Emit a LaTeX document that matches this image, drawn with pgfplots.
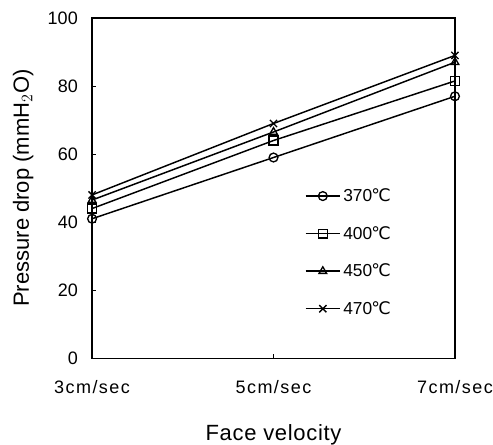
\documentclass[border=0pt]{standalone}
\usepackage{pgfplots}
\pgfplotsset{compat=1.18}
\usepackage{fontspec}
\setmainfont{Liberation Sans}
\newfontfamily\dejavu{DejaVu Sans}
\newfontfamily\widefont[LetterSpace=8]{Liberation Sans}
\newcommand{\degC}{{\dejavu\kern-0.05em ℃}}

\begin{document}
\begin{tikzpicture}
\begin{axis}[
  scale only axis,
  width=272pt,
  height=255pt,
  xmin=0, xmax=2,
  ymin=0, ymax=100,
  xtick={0,1,2},
  xticklabels={3cm/sec,5cm/sec,7cm/sec},
  ytick={0,20,40,60,80,100},
  ytick pos=left,
  xtick pos=bottom,
  tick style={black,line width=0.6pt},
  major tick length=3pt,
  tick align=inside,
  axis line style={line width=1pt},
  /pgf/number format/assume math mode=true,
  xticklabel style={font=\widefont\fontsize{13.5}{15}\selectfont, anchor=base, inner sep=0pt, yshift=-26.5pt},
  yticklabel style={font=\fontsize{13.5}{15}\selectfont, anchor=east, inner sep=0pt, xshift=-10.5pt},
  xlabel={\addfontfeature{LetterSpace=3}Face velocity},
  ylabel={Pressure drop (mmH$_2$O)},
  label style={font=\fontsize{16.5}{18}\selectfont},
  xlabel style={at={(axis description cs:0.5,0)}, anchor=base, inner sep=0pt, yshift=-61.4pt},
  ylabel style={at={(axis description cs:-0.19,0.5)}, anchor=center, inner sep=0pt},
  legend style={draw=none, fill=none, at={(rel axis cs:0.575,0.515)}, anchor=north west,
    font=\fontsize{13}{14}\selectfont, row sep=13pt},
  legend cell align=left,
  legend image code/.code={\draw[mark repeat=2,mark phase=2,#1] plot coordinates {(0cm,0cm) (0.45cm,0cm) (0.9cm,0cm)};},
  every axis plot/.append style={black, line width=1.1pt, mark size=3.3pt, mark options={solid, fill=white, line width=1pt}},
]
\addplot[mark=o] coordinates {(0,41) (1,59) (2,77)};
\addlegendentry{370\degC}
\addplot[mark=square] coordinates {(0,44) (1,64) (2,81.5)};
\addlegendentry{400\degC}
\addplot[mark=triangle] coordinates {(0,46.5) (1,66.5) (2,87)};
\addlegendentry{450\degC}
\addplot[mark=x, mark size=3.8pt] coordinates {(0,48) (1,69) (2,89)};
\addlegendentry{470\degC}
\end{axis}
\pgfresetboundingbox
\path ([shift={(-69pt,-64.4pt)}]current axis.south west) rectangle ([shift={(28.5pt,13.5pt)}]current axis.north east);
\end{tikzpicture}
\end{document}
